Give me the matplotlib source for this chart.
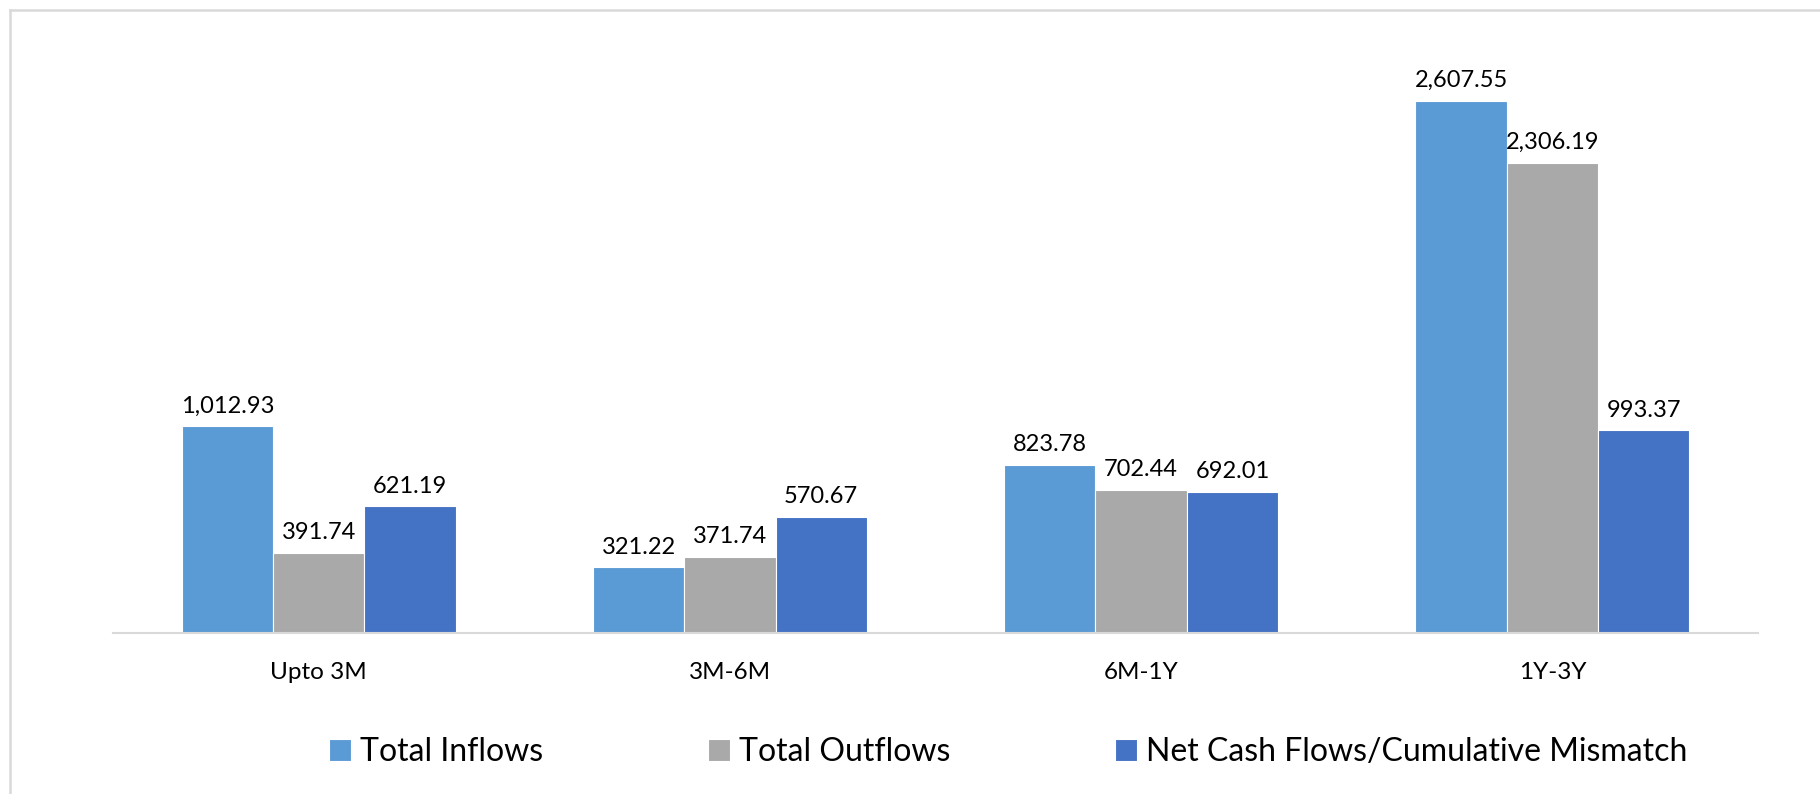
import matplotlib
matplotlib.use("Agg")
import matplotlib.pyplot as plt
import numpy as np
from matplotlib.lines import Line2D

categories = ["Upto 3M", "3M-6M", "6M-1Y", "1Y-3Y"]
series_names = ["Total Inflows", "Total Outflows", "Net Cash Flows/Cumulative Mismatch"]
inflows = [1012.93, 321.22, 823.78, 2607.55]
outflows = [391.74, 371.74, 702.44, 2306.19]
net_flows = [621.19, 570.67, 692.01, 993.37]
colors = ["#5B9BD5", "#A9A9A9", "#4472C4"]

plt.rcParams['font.family'] = ['Lato', 'DejaVu Sans']

W, H = 1820, 794
fig = plt.figure(figsize=(W / 100, H / 100), dpi=100)
ax = fig.add_axes([113 / W, 1 - 633 / H, (1758 - 113) / W, (633 - 21) / H])

x = np.arange(len(categories))
bw = 0.222
data = [inflows, outflows, net_flows]
for i, (vals, name, c) in enumerate(zip(data, series_names, colors)):
    bars = ax.bar(x + (i - 1) * bw, vals, bw, color=c, label=name,
                  edgecolor="white", linewidth=0.8)
    for b, v in zip(bars, vals):
        ax.annotate(f"{v:,.2f}", (b.get_x() + b.get_width() / 2, v),
                    xytext=(0, 7), textcoords="offset points",
                    ha="center", va="bottom", fontsize=17, color="#000000")

ax.set_xlim(-0.5, 3.5)
ax.set_ylim(0, 3000)
ax.set_yticks([])
for s in ["top", "right", "left"]:
    ax.spines[s].set_visible(False)
ax.spines["bottom"].set_color("#D9D9D9")
ax.spines["bottom"].set_linewidth(1.5)
ax.set_xticks(x)
ax.set_xticklabels(categories, fontsize=17.5)
ax.tick_params(axis="x", length=0, pad=21)

leg = fig.legend(loc="center", bbox_to_anchor=(1008 / W, 1 - 752 / H), ncol=3,
                 frameon=False, fontsize=23, handlelength=0.69, handleheight=0.66,
                 handletextpad=0.28, columnspacing=5.15)

# outer frame (cropped at right and bottom)
fig.add_artist(Line2D([10 / W, 1], [1 - 10 / H, 1 - 10 / H], color="#D9D9D9", lw=1.8,
                      transform=fig.transFigure))
fig.add_artist(Line2D([10 / W, 10 / W], [0, 1 - 10 / H], color="#D9D9D9", lw=1.8,
                      transform=fig.transFigure))

fig.savefig("out.png", dpi=100)
